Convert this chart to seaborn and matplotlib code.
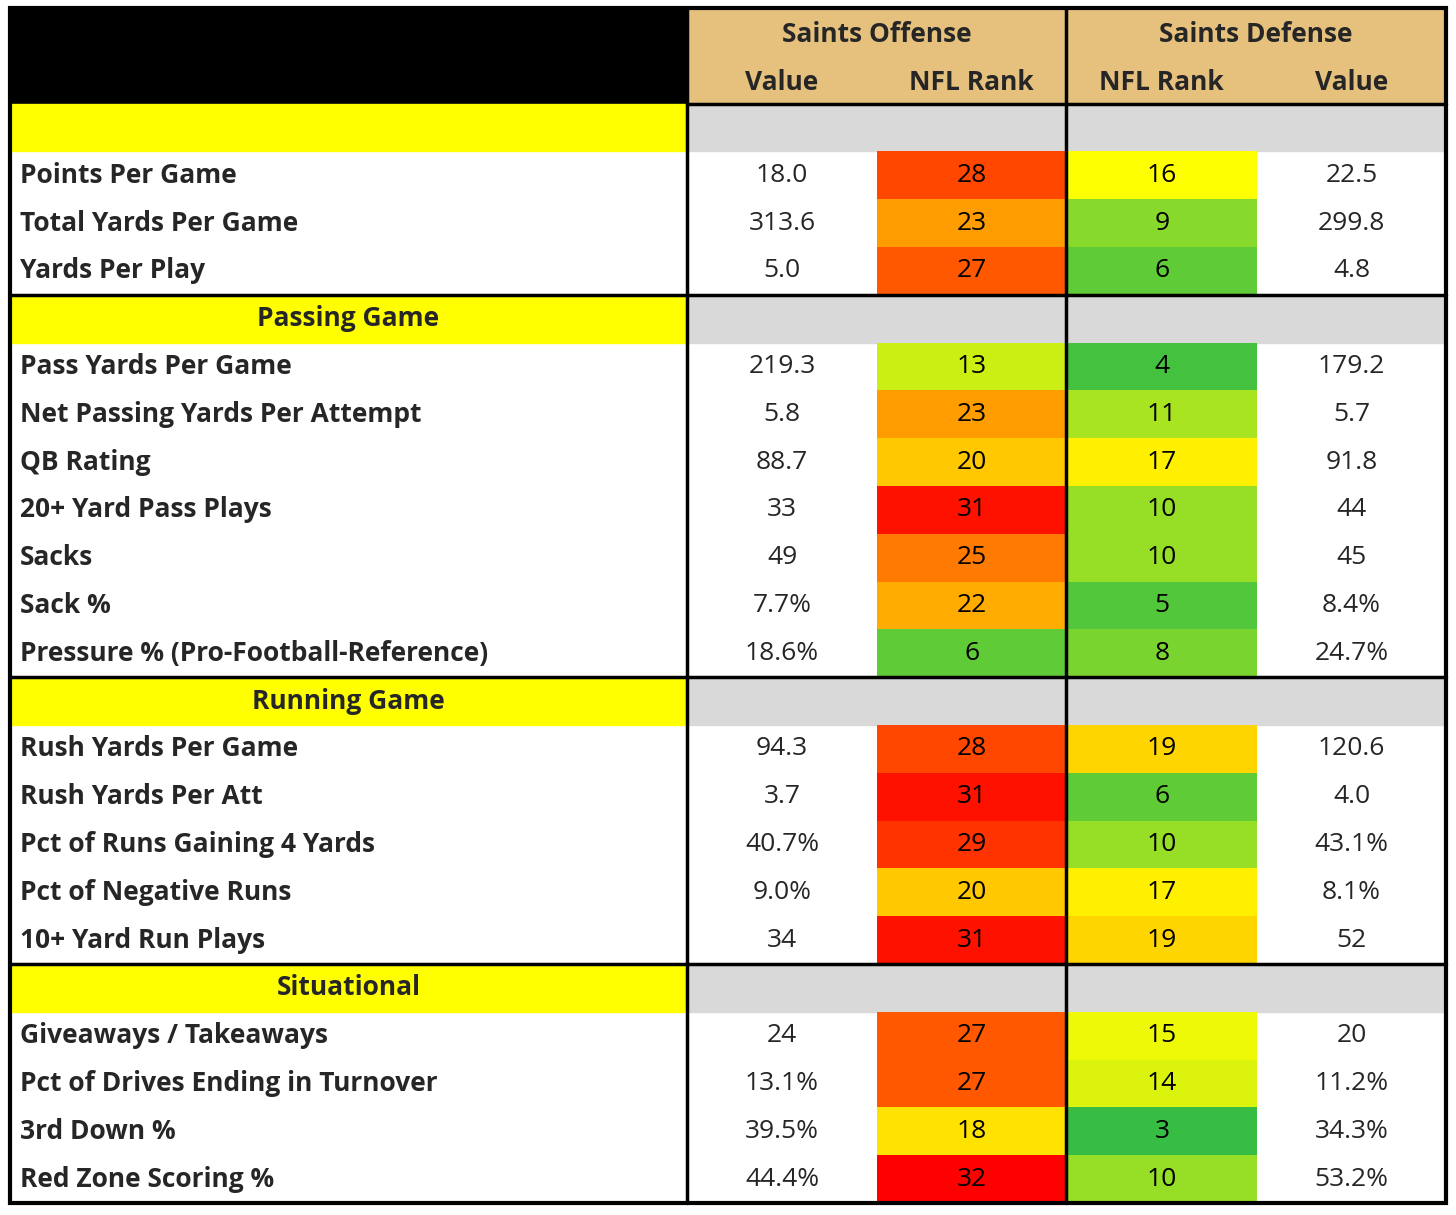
import matplotlib
matplotlib.use("Agg")
import matplotlib.pyplot as plt
import seaborn as sns
import numpy as np
import pandas as pd
from matplotlib.colors import LinearSegmentedColormap
from matplotlib.patches import Rectangle

sns.set_theme(style="white")
plt.rcParams['font.family'] = ['Open Sans', 'DejaVu Sans']

# ---- data ----
sections = ["", "Passing Game", "Running Game", "Situational"]
labels = [
    ["Points Per Game", "Total Yards Per Game", "Yards Per Play"],
    ["Pass Yards Per Game", "Net Passing Yards Per Attempt", "QB Rating", "20+ Yard Pass Plays",
     "Sacks", "Sack %", "Pressure % (Pro-Football-Reference)"],
    ["Rush Yards Per Game", "Rush Yards Per Att", "Pct of Runs Gaining 4 Yards",
     "Pct of Negative Runs", "10+ Yard Run Plays"],
    ["Giveaways / Takeaways", "Pct of Drives Ending in Turnover", "3rd Down %", "Red Zone Scoring %"],
]
off_value = [["18.0", "313.6", "5.0"],
             ["219.3", "5.8", "88.7", "33", "49", "7.7%", "18.6%"],
             ["94.3", "3.7", "40.7%", "9.0%", "34"],
             ["24", "13.1%", "39.5%", "44.4%"]]
off_rank = [[28, 23, 27], [13, 23, 20, 31, 25, 22, 6], [28, 31, 29, 20, 31], [27, 27, 18, 32]]
def_rank = [[16, 9, 6], [4, 11, 17, 10, 10, 5, 8], [19, 6, 10, 17, 19], [15, 14, 3, 10]]
def_value = [["22.5", "299.8", "4.8"],
             ["179.2", "5.7", "91.8", "44", "45", "8.4%", "24.7%"],
             ["120.6", "4.0", "43.1%", "8.1%", "52"],
             ["20", "11.2%", "34.3%", "53.2%"]]

# ---- layout ----
W, H = 1456, 1215
x0, xc1, xc2, xc3, xc4, x1 = 10, 687, 877, 1066, 1257, 1446
y0, y1 = 8, 1203
nrows = 2 + sum(1 + len(l) for l in labels)
rh = (y1 - y0) / nrows

fig = plt.figure(figsize=(W / 100, H / 100), dpi=100)
bg = fig.add_axes([0, 0, 1, 1], zorder=0)
bg.set_xlim(0, W); bg.set_ylim(H, 0); bg.axis("off")

# rows list
rows = []  # (kind, ...)
for si, sec in enumerate(sections):
    rows.append(("sec", sec))
    for j, lab in enumerate(labels[si]):
        rows.append(("data", lab, off_value[si][j], off_rank[si][j], def_rank[si][j], def_value[si][j]))

# header
bg.add_patch(Rectangle((x0, y0), xc1 - x0, 2 * rh, color="black"))
bg.add_patch(Rectangle((xc1, y0), x1 - xc1, 2 * rh, color="#e6c17d"))
hb = dict(fontsize=19, fontweight="bold", ha="center", va="center")
bg.text((xc1 + xc3) / 2, y0 + rh * 0.55, "Saints Offense", **hb)
bg.text((xc3 + x1) / 2, y0 + rh * 0.55, "Saints Defense", **hb)
for xa, xb, t in [(xc1, xc2, "Value"), (xc2, xc3, "NFL Rank"), (xc3, xc4, "NFL Rank"), (xc4, x1, "Value")]:
    bg.text((xa + xb) / 2, y0 + rh * 1.55, t, **hb)

rank_mat = np.full((nrows, 2), np.nan)
sec_ys = []
for i, r in enumerate(rows):
    yt = y0 + (i + 2) * rh
    yc = yt + rh / 2
    if r[0] == "sec":
        sec_ys.append(yt)
        bg.add_patch(Rectangle((x0, yt), xc1 - x0, rh, color="#ffff00"))
        bg.add_patch(Rectangle((xc1, yt), x1 - xc1, rh, color="#d9d9d9"))
        bg.text((x0 + xc1) / 2, yc, r[1], **hb)
    else:
        _, lab, ov, orr, dr, dv = r
        bg.text(20, yc, lab, fontsize=19, fontweight="bold", ha="left", va="center")
        bg.text((xc1 + xc2) / 2, yc, ov, fontsize=19, ha="center", va="center")
        bg.text((xc4 + x1) / 2, yc, dv, fontsize=19, ha="center", va="center")
        rank_mat[i + 2, 0] = orr
        rank_mat[i + 2, 1] = dr

cmap = LinearSegmentedColormap.from_list("rk", [(0, "#1db44a"), (0.27, "#8cdb2a"), (0.484, "#ffff00"),
                                               (0.72, "#ff9900"), (1, "#ff0000")])
hax = fig.add_axes([xc2 / W, 1 - y1 / H, (xc4 - xc2) / W, (y1 - y0) / H], zorder=1)
annot = np.where(np.isnan(rank_mat), "", np.nan_to_num(rank_mat).astype(int).astype(str))
sns.heatmap(pd.DataFrame(rank_mat), ax=hax, cmap=cmap, vmin=1, vmax=32, cbar=False,
            annot=annot, fmt="", annot_kws=dict(fontsize=19, color="black"))
hax.axis("off")

ov = fig.add_axes([0, 0, 1, 1], zorder=2)
ov.set_xlim(0, W); ov.set_ylim(H, 0); ov.axis("off"); ov.patch.set_alpha(0)
lw = 2.5
ov.add_patch(Rectangle((x0, y0), x1 - x0, y1 - y0, fill=False, lw=3, ec="black"))
ov.plot([xc1, xc1], [y0, y1], color="black", lw=lw)
ov.plot([xc3, xc3], [y0, y1], color="black", lw=lw)
for ys in sec_ys[1:]:
    ov.plot([x0, x1], [ys, ys], color="black", lw=lw)
ov.plot([xc1, x1], [y0 + 2 * rh, y0 + 2 * rh], color="black", lw=lw)

fig.savefig("out.png", dpi=100)
